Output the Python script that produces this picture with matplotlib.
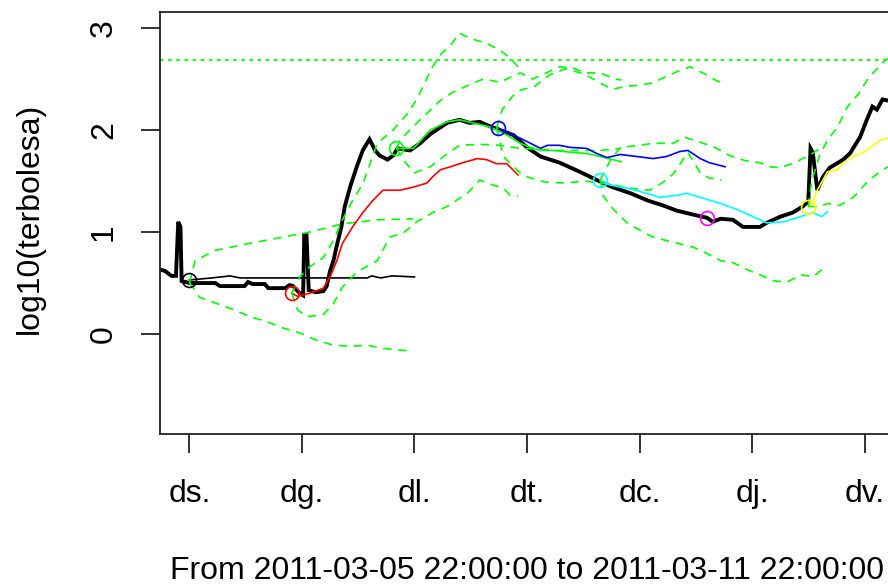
import matplotlib
matplotlib.use("Agg")
import matplotlib.pyplot as plt

plt.rcParams['font.family'] = ['Liberation Sans', 'DejaVu Sans']

# x in days after the "ds." tick, y = log10(terbolesa)
obs_x = [-0.26, -0.22, -0.16, -0.12, -0.10, -0.08, -0.07, 0.00, 0.23, 0.27, 0.49, 0.52, 0.56, 0.67,
         0.70, 0.85, 0.89, 0.92, 0.98, 1.01, 1.02, 1.04, 1.06, 1.12, 1.19, 1.22, 1.25, 1.28, 1.31,
         1.35, 1.38, 1.43, 1.49, 1.54, 1.60, 1.65, 1.69, 1.76, 1.81, 1.85, 1.96, 2.05, 2.14, 2.29,
         2.40, 2.49, 2.58, 2.64, 2.76, 2.88, 3.00, 3.12, 3.29, 3.47, 3.62, 3.76, 3.92, 4.07, 4.21,
         4.33, 4.48, 4.60, 4.65, 4.72, 4.83, 4.92, 5.07, 5.13, 5.25, 5.36, 5.45, 5.50, 5.52, 5.54,
         5.58, 5.63, 5.69, 5.81, 5.87, 5.96, 6.02, 6.07, 6.11, 6.16, 6.20, 6.26]
obs_y = [0.63, 0.62, 0.57, 0.57, 1.10, 1.05, 0.52, 0.50, 0.50, 0.47, 0.47, 0.51, 0.49, 0.49,
         0.45, 0.45, 0.48, 0.47, 0.40, 0.38, 0.97, 0.97, 0.43, 0.41, 0.42, 0.47, 0.62, 0.72, 0.87,
         1.05, 1.25, 1.45, 1.65, 1.80, 1.91, 1.80, 1.75, 1.71, 1.75, 1.82, 1.80, 1.87, 1.96, 2.07,
         2.10, 2.07, 2.08, 2.05, 2.00, 1.95, 1.83, 1.74, 1.68, 1.59, 1.51, 1.44, 1.38, 1.31, 1.26,
         1.21, 1.17, 1.14, 1.10, 1.13, 1.12, 1.05, 1.05, 1.09, 1.15, 1.19, 1.25, 1.30, 1.82, 1.78,
         1.41, 1.54, 1.63, 1.71, 1.77, 1.93, 2.10, 2.23, 2.20, 2.30, 2.29, 2.30]

# forecast 1 (black)
f1_x = [0.00, 0.20, 0.36, 0.45, 0.80, 1.30, 1.58, 1.62, 1.70, 1.80, 2.00]
f1_y = [0.53, 0.55, 0.57, 0.55, 0.55, 0.55, 0.55, 0.57, 0.55, 0.57, 0.56]
f1_up_x = [0.00, 0.05, 0.23, 0.54, 0.83, 1.07, 1.36, 1.67, 1.99]
f1_up_y = [0.50, 0.72, 0.82, 0.89, 0.95, 1.00, 1.08, 1.12, 1.13]
f1_lo_x = [0.00, 0.03, 0.09, 0.24, 0.39, 0.54, 0.69, 0.83, 0.98, 1.13, 1.28, 1.43, 1.58, 1.72, 1.99]
f1_lo_y = [0.50, 0.46, 0.36, 0.30, 0.24, 0.17, 0.12, 0.06, 0.01, -0.06, -0.11, -0.12, -0.11, -0.14, -0.17]

# forecast 2 (red)
f2_x = [0.91, 0.96, 1.07, 1.19, 1.25, 1.31, 1.36, 1.45, 1.54, 1.63, 1.72, 1.87, 1.99, 2.11, 2.16,
        2.23, 2.32, 2.43, 2.56, 2.64, 2.73, 2.82, 2.92]
f2_y = [0.40, 0.37, 0.40, 0.45, 0.56, 0.72, 0.89, 1.05, 1.19, 1.31, 1.41, 1.41, 1.44, 1.48, 1.54,
        1.61, 1.64, 1.68, 1.72, 1.71, 1.67, 1.67, 1.56]
f2_up_x = [0.91, 0.98, 1.07, 1.19, 1.28, 1.36, 1.45, 1.54, 1.67, 1.81, 1.93, 2.02, 2.16, 2.24,
           2.32, 2.40, 2.49, 2.64, 2.73, 2.80, 2.88, 2.92]
f2_up_y = [0.40, 0.56, 0.66, 0.75, 0.92, 1.12, 1.31, 1.47, 1.87, 2.00, 2.15, 2.30, 2.62, 2.75,
           2.83, 2.95, 2.90, 2.85, 2.80, 2.75, 2.67, 2.62]
f2_lo_x = [0.91, 0.96, 1.04, 1.19, 1.28, 1.36, 1.49, 1.67, 1.78, 1.90, 2.02, 2.16, 2.29, 2.47,
           2.58, 2.70, 2.79, 2.85, 2.92]
f2_lo_y = [0.40, 0.24, 0.17, 0.19, 0.30, 0.46, 0.61, 0.72, 0.95, 0.99, 1.10, 1.19, 1.25, 1.38,
           1.51, 1.46, 1.43, 1.36, 1.35]

# forecast 3 (green)
f3_x = [1.84, 1.99, 2.14, 2.29, 2.40, 2.52, 2.67, 2.79, 2.94, 3.03, 3.12, 3.23, 3.41, 3.53, 3.65,
        3.76, 3.84]
f3_y = [1.82, 1.82, 2.00, 2.08, 2.10, 2.07, 2.03, 1.97, 1.87, 1.83, 1.80, 1.80, 1.78, 1.77, 1.74,
        1.71, 1.69]
f3_up_x = [1.84, 1.87, 2.05, 2.23, 2.34, 2.48, 2.61, 2.76, 2.94, 3.05, 3.19, 3.29, 3.41, 3.51,
           3.65, 3.78, 3.84]
f3_up_y = [1.82, 1.90, 2.10, 2.29, 2.37, 2.44, 2.50, 2.47, 2.56, 2.50, 2.57, 2.62, 2.61, 2.56,
           2.56, 2.50, 2.49]
f3_lo_x = [1.84, 1.92, 2.00, 2.14, 2.27, 2.40, 2.58, 2.76, 2.94, 3.29, 3.65, 3.84]
f3_lo_y = [1.82, 1.68, 1.58, 1.64, 1.75, 1.85, 1.86, 1.85, 1.82, 1.80, 1.80, 1.82]

# forecast 4 (blue)
f4_x = [2.74, 2.88, 2.94, 3.03, 3.12, 3.18, 3.29, 3.38, 3.53, 3.62, 3.71, 3.83, 3.98, 4.12, 4.24,
        4.36, 4.43, 4.54, 4.62, 4.76]
f4_y = [2.02, 1.95, 1.92, 1.87, 1.82, 1.85, 1.85, 1.83, 1.82, 1.77, 1.73, 1.76, 1.74, 1.72, 1.74,
        1.79, 1.80, 1.72, 1.68, 1.64]
f4_up_x = [2.73, 2.78, 2.87, 2.94, 3.07, 3.20, 3.34, 3.51, 3.65, 3.76, 3.89, 4.00, 4.11, 4.23,
           4.33, 4.45, 4.58, 4.69, 4.73]
f4_up_y = [2.02, 2.20, 2.33, 2.39, 2.43, 2.54, 2.60, 2.55, 2.46, 2.40, 2.43, 2.44, 2.46, 2.52,
           2.57, 2.62, 2.55, 2.48, 2.47]
f4_lo_x = [2.73, 2.79, 2.88, 2.96, 3.03, 3.16, 3.34, 3.51, 3.74, 3.92, 4.09, 4.20, 4.30, 4.43,
           4.54, 4.62, 4.73]
f4_lo_y = [2.02, 1.74, 1.64, 1.56, 1.53, 1.49, 1.48, 1.50, 1.47, 1.43, 1.41, 1.48, 1.57, 1.78,
           1.58, 1.53, 1.51]

# forecast 5 (cyan)
f5_x = [3.65, 3.74, 3.89, 4.03, 4.18, 4.33, 4.42, 4.54, 4.72, 4.87, 5.01, 5.13, 5.28, 5.40, 5.54,
        5.62, 5.67]
f5_y = [1.51, 1.46, 1.43, 1.39, 1.34, 1.36, 1.38, 1.34, 1.28, 1.22, 1.15, 1.09, 1.10, 1.14, 1.19,
        1.15, 1.20]
f5_up_x = [3.65, 3.74, 3.83, 4.00, 4.12, 4.30, 4.40, 4.54, 4.67, 4.80, 4.94, 5.07, 5.16, 5.25,
           5.38, 5.52, 5.65]
f5_up_y = [1.51, 1.70, 1.83, 1.85, 1.87, 1.87, 1.93, 1.88, 1.83, 1.75, 1.70, 1.68, 1.64, 1.63,
           1.68, 1.76, 1.85]
f5_lo_x = [3.65, 3.68, 3.77, 3.89, 4.00, 4.12, 4.30, 4.48, 4.60, 4.72, 4.83, 4.96, 5.07, 5.20,
           5.31, 5.44, 5.54, 5.62]
f5_lo_y = [1.51, 1.35, 1.22, 1.09, 1.02, 0.95, 0.90, 0.85, 0.79, 0.72, 0.70, 0.63, 0.58, 0.52,
           0.51, 0.58, 0.56, 0.63]

# forecast 6 (magenta) - only the start point
f6_x = [4.60]
f6_y = [1.14]

# forecast 7 (yellow)
f7_x = [5.50, 5.54, 5.58, 5.63, 5.67, 5.76, 5.81, 5.90, 5.99, 6.08, 6.14, 6.21, 6.26]
f7_y = [1.25, 1.29, 1.41, 1.51, 1.59, 1.61, 1.68, 1.74, 1.78, 1.85, 1.90, 1.92, 1.93]
f7_up_x = [5.50, 5.53, 5.60, 5.67, 5.76, 5.85, 5.95, 6.04, 6.13, 6.19, 6.26]
f7_up_y = [1.25, 1.50, 1.75, 1.90, 2.03, 2.23, 2.36, 2.52, 2.62, 2.69, 2.72]
f7_lo_x = [5.50, 5.60, 5.67, 5.78, 5.90, 5.96, 6.03, 6.16, 6.26]
f7_lo_y = [1.25, 1.25, 1.28, 1.26, 1.34, 1.41, 1.50, 1.61, 1.67]

threshold = 2.69
day_ticks = [0, 1, 2, 3, 4, 5, 6]
day_labels = ['ds.', 'dg.', 'dl.', 'dt.', 'dc.', 'dj.', 'dv.']

forecasts = [
    ('black', f1_x, f1_y, f1_up_x, f1_up_y, f1_lo_x, f1_lo_y),
    ('red', f2_x, f2_y, f2_up_x, f2_up_y, f2_lo_x, f2_lo_y),
    ('#00ff00', f3_x, f3_y, f3_up_x, f3_up_y, f3_lo_x, f3_lo_y),
    ('blue', f4_x, f4_y, f4_up_x, f4_up_y, f4_lo_x, f4_lo_y),
    ('cyan', f5_x, f5_y, f5_up_x, f5_up_y, f5_lo_x, f5_lo_y),
    ('magenta', f6_x, f6_y, None, None, None, None),
    ('yellow', f7_x, f7_y, f7_up_x, f7_up_y, f7_lo_x, f7_lo_y),
]

fs = 23

fig = plt.figure(figsize=(8.88, 5.88), dpi=100)
ax = fig.add_axes([160 / 888, 154 / 588, 733 / 888, 422 / 588])

ax.plot(obs_x, obs_y, color='black', lw=2.8, solid_joinstyle='miter')

dash = (0, (5, 4))
for col, x, y, ux, uy, lx, ly in forecasts:
    if len(x) > 1:
        ax.plot(x, y, color=col, lw=1.2)
    if ux is not None:
        ax.plot(ux, uy, color='#00ff00', lw=1.2, linestyle=dash)
        ax.plot(lx, ly, color='#00ff00', lw=1.2, linestyle=dash)
    ax.plot(x[0], y[0], 'o', mfc='none', mec=col, mew=1.2, ms=10)

ax.axhline(threshold, color='#00ff00', lw=1.3, linestyle=(0, (2, 2.5)))

ax.set_xlim(-0.262, 6.253)
ax.set_ylim(-0.98, 3.157)

ax.set_xticks(day_ticks)
ax.set_xticklabels(day_labels, fontsize=fs)
ax.set_yticks([0, 1, 2, 3])
ax.set_yticklabels(['0', '1', '2', '3'], fontsize=fs, rotation=90, va='center')
ax.tick_params(axis='both', length=13.5, width=1.3, color='#222222')
ax.tick_params(axis='x', pad=19)
ax.tick_params(axis='y', pad=16)
for s in ax.spines.values():
    s.set_linewidth(1.3)
    s.set_color('#222222')

fig.text(526.5 / 888, 1 - 571 / 588, 'From 2011-03-05 22:00:00 to 2011-03-11 22:00:00',
         fontsize=fs, ha='center', va='center')
fig.text(30 / 888, 1 - 218 / 588, 'log10(terbolesa)', fontsize=fs, rotation=90,
         ha='center', va='center')

fig.savefig('out.png', dpi=100)
